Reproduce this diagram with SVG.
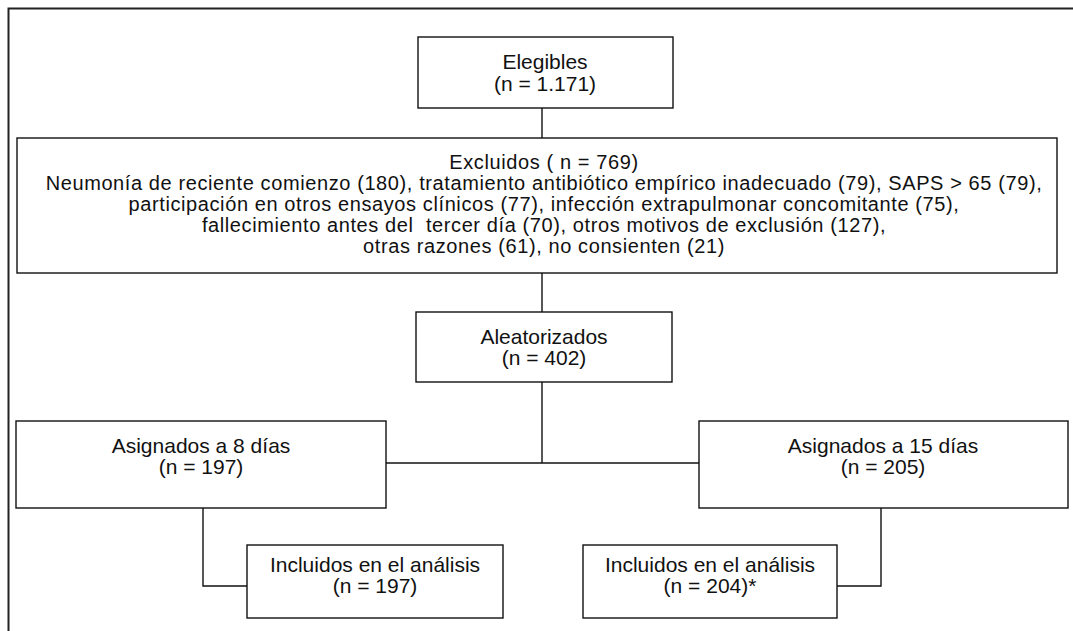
<svg xmlns="http://www.w3.org/2000/svg" width="1073" height="631" viewBox="0 0 1073 631">
<style>
.box{fill:#fff;stroke:#111;stroke-width:1.4}
.ln{fill:none;stroke:#111;stroke-width:1.4}
.frame{fill:none;stroke:#222;stroke-width:2}
text{font-family:"Liberation Sans",Arial,sans-serif;font-size:21px;fill:#111;text-anchor:middle;white-space:pre}
.ex{font-size:20px;letter-spacing:0.6px}
</style>
<rect width="1073" height="631" fill="#fff"/>
<path class="frame" d="M8.5,631 V8.5 H1073"/>
<g id="connectors">
<path class="ln" d="M542,108 V138"/>
<path class="ln" d="M542,273 V312"/>
<path class="ln" d="M542,382 V463"/>
<path class="ln" d="M386,463 H699"/>
<path class="ln" d="M203,508 V586 H247"/>
<path class="ln" d="M837,586 H881 V508"/>
</g>
<g id="elegibles">
<rect class="box" x="418" y="37" width="255" height="71"/>
<text x="545" y="69">Elegibles</text>
<text x="545" y="91">(n = 1.171)</text>
</g>
<g id="excluidos">
<rect class="box" x="17" y="138" width="1040" height="135"/>
<text class="ex" x="544" y="169">Excluidos ( n = 769)</text>
<text class="ex" x="544" y="190">Neumonía de reciente comienzo (180), tratamiento antibiótico empírico inadecuado (79), SAPS &gt; 65 (79),</text>
<text class="ex" x="544" y="211">participación en otros ensayos clínicos (77), infección extrapulmonar concomitante (75),</text>
<text class="ex" x="544" y="232" xml:space="preserve">fallecimiento antes del  tercer día (70), otros motivos de exclusión (127),</text>
<text class="ex" x="544" y="253">otras razones (61), no consienten (21)</text>
</g>
<g id="aleatorizados">
<rect class="box" x="416" y="312" width="256" height="70"/>
<text x="544" y="344">Aleatorizados</text>
<text x="544" y="365">(n = 402)</text>
</g>
<g id="asig8">
<rect class="box" x="16" y="421" width="370" height="87"/>
<text x="201" y="453">Asignados a 8 días</text>
<text x="201" y="474">(n = 197)</text>
</g>
<g id="asig15">
<rect class="box" x="699" y="421" width="369" height="87"/>
<text x="883" y="453">Asignados a 15 días</text>
<text x="883" y="474">(n = 205)</text>
</g>
<g id="incl8">
<rect class="box" x="247" y="545" width="256" height="73"/>
<text x="375" y="572">Incluidos en el análisis</text>
<text x="375" y="593">(n = 197)</text>
</g>
<g id="incl15">
<rect class="box" x="583" y="545" width="254" height="73"/>
<text x="710" y="572">Incluidos en el análisis</text>
<text x="710" y="593">(n = 204)*</text>
</g>
</svg>
